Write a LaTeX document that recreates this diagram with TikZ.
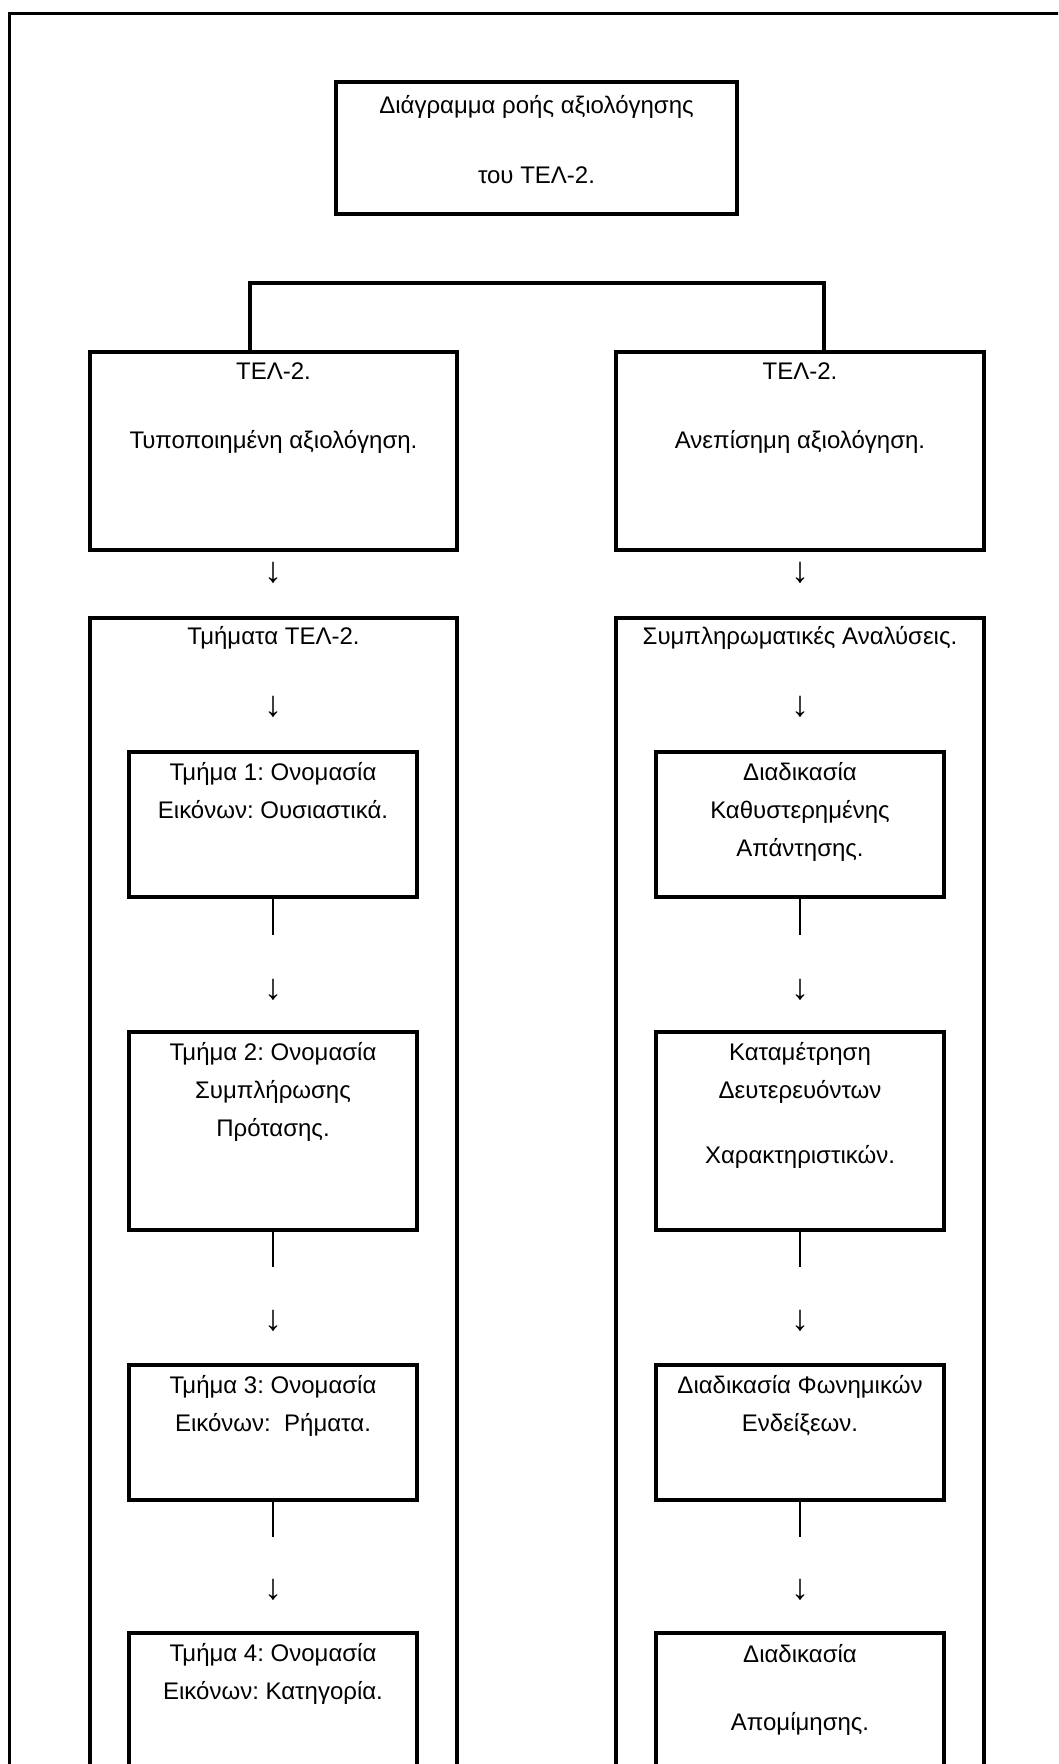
\documentclass[tikz,border=0pt]{standalone}
\usepackage{fontspec}
\setmainfont{Liberation Sans}
\frenchspacing
\newcommand{\bxt}[4]{\begin{minipage}[t][#2pt][t]{#1pt}\centering\frenchspacing\fontsize{24}{38}\selectfont\rule{0pt}{#3pt}#4\end{minipage}}
\begin{document}
\begin{tikzpicture}[x=1pt,y=-1pt,
  box/.style={draw, line width=3.2pt, inner sep=0pt, outer sep=0pt, anchor=north west},
  conn/.style={line width=1.8pt},
  bracket/.style={line width=3.2pt},
  frame/.style={line width=3.4pt},
  arr/.style={inner sep=0pt, font=\fontsize{36}{36}\selectfont}]
\useasboundingbox (0,0) rectangle (1058,1764);
\clip (0,0) rectangle (1058,1764);
% outer frame (clipped at right and bottom)
\draw[frame] (9.5,1800) -- (9.5,13.5) -- (1100,13.5);
% title
\node[box] (title) at (336,82) {\bxt{401}{132}{31}{Διάγραμμα ροής αξιολόγησης\\[32pt]του ΤΕΛ-2.}};
% two branches
\node[box] (telL) at (90,352) {\bxt{367}{198}{27}{ΤΕΛ-2.\\[31pt]Τυποποιημένη αξιολόγηση.}};
\node[box] (telR) at (616,352) {\bxt{368}{198}{27}{ΤΕΛ-2.\\[31pt]Ανεπίσημη αξιολόγηση.}};
\coordinate (jl) at (250,283);
\coordinate (jr) at (824,283);
\draw[bracket] (telL.north -| jl) -- (jl) -- (jr) -- (telR.north -| jr);
% arrows between
\node[arr] (aL0) at (273,573) {↓};
\node[arr] (aR0) at (800,573) {↓};
% big boxes
\node[box] (bigL) at (90,618) {\bxt{367}{1182}{26}{Τμήματα ΤΕΛ-2.}};
\node[box] (bigR) at (616,618) {\bxt{368}{1182}{26}{Συμπληρωματικές Αναλύσεις.}};
\node[arr] (aL1) at (273,707) {↓};
\node[arr] (aR1) at (800,707) {↓};
% left column
\node[box] (L1) at (129,752) {\bxt{288}{145}{28}{Τμήμα 1: Ονομασία\\Εικόνων: Ουσιαστικά.}};
\node[box] (L2) at (129,1032) {\bxt{288}{198}{28}{Τμήμα 2: Ονομασία\\Συμπλήρωσης\\Πρότασης.}};
\node[box] (L3) at (129,1365) {\bxt{288}{135}{28}{Τμήμα 3: Ονομασία\\Εικόνων:~ Ρήματα.}};
\node[box] (L4) at (129,1633) {\bxt{288}{170}{28}{Τμήμα 4: Ονομασία\\Εικόνων: Κατηγορία.}};
% right column
\node[box] (R1) at (656,752) {\bxt{288}{145}{28}{Διαδικασία\\Καθυστερημένης\\Απάντησης.}};
\node[box] (R2) at (656,1032) {\bxt{288}{198}{28}{Καταμέτρηση\\Δευτερευόντων\\[27pt]Χαρακτηριστικών.}};
\node[box] (R3) at (656,1365) {\bxt{288}{135}{28}{Διαδικασία Φωνημικών\\Ενδείξεων.}};
\node[box] (R4) at (656,1633) {\bxt{288}{170}{29}{Διαδικασία\\[30pt]Απομίμησης.}};
% connector stubs and arrow glyphs
\coordinate (eL1) at (273,935);
\coordinate (eL2) at (273,1267);
\coordinate (eL3) at (273,1537);
\coordinate (eR1) at (800,935);
\coordinate (eR2) at (800,1267);
\coordinate (eR3) at (800,1537);
\draw[conn] (L1.south) -- (eL1);
\draw[conn] (L2.south) -- (eL2);
\draw[conn] (L3.south) -- (eL3);
\draw[conn] (R1.south) -- (eR1);
\draw[conn] (R2.south) -- (eR2);
\draw[conn] (R3.south) -- (eR3);
\node[arr] (aL2) at (273,990) {↓};
\node[arr] (aL3) at (273,1321) {↓};
\node[arr] (aL4) at (273,1590) {↓};
\node[arr] (aR2) at (800,990) {↓};
\node[arr] (aR3) at (800,1321) {↓};
\node[arr] (aR4) at (800,1590) {↓};
\end{tikzpicture}
\end{document}
